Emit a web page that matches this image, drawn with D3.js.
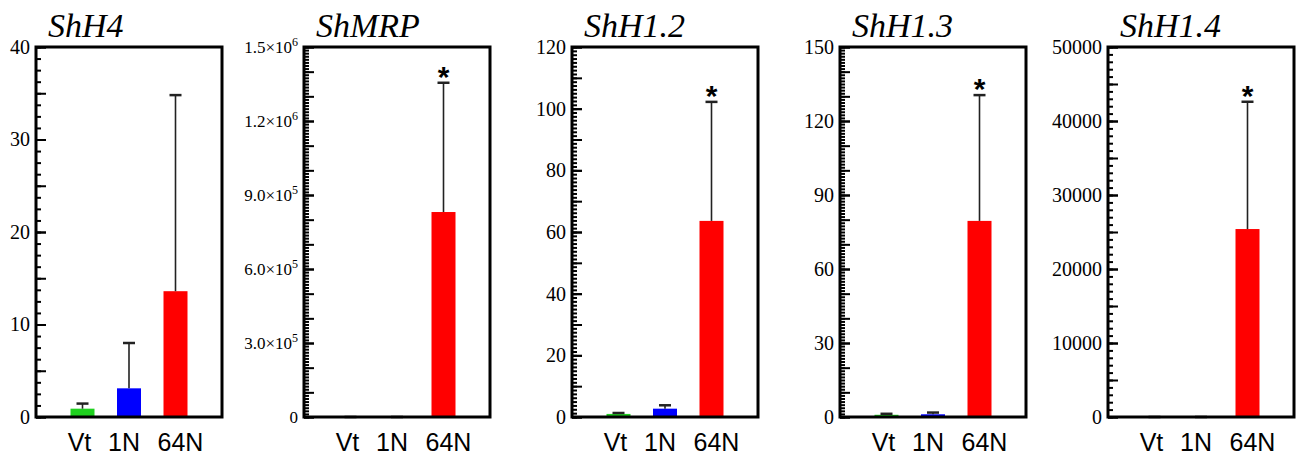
<!DOCTYPE html>
<html>
<head>
<meta charset="utf-8">
<script src="https://cdn.jsdelivr.net/npm/d3@7"></script>
<style>
  body { margin: 0; background: #fff; }
  .title { font-family: "Liberation Serif", "Times New Roman", serif; font-style: italic; font-size: 34px; }
  .xlab { font-family: "Liberation Sans", Arial, sans-serif; font-size: 25px; }
  .star { font-family: "Liberation Sans", Arial, sans-serif; font-size: 30px; font-weight: bold; }
  .ylab text { font-family: "Liberation Serif", "Times New Roman", serif; fill: #000; }
</style>
</head>
<body>
<div id="chart"></div>
<script>
// categories and genes
const categories = ["Vt", "1N", "64N"];
const genes = ["ShH4", "ShMRP", "ShH1.2", "ShH1.3", "ShH1.4"];
const barColors = ["#1fd11f", "#0000ff", "#ff0000"];

// mean values and SD (upper error)
const shH4Mean = [0.9, 3.1, 13.6];
const shH4Sd = [0.55, 4.9, 21.2];
const shMRPMean = [1, 3, 831000];
const shMRPSd = [0.5, 2, 524000];
const shH12Mean = [1.0, 2.7, 63.6];
const shH12Sd = [0.3, 1.1, 38.6];
const shH13Mean = [0.9, 1.1, 79.5];
const shH13Sd = [0.4, 0.7, 51];
const shH14Mean = [1, 1.5, 25400];
const shH14Sd = [0.5, 1, 17200];

// y axes
const yMax = [40, 1.5e6, 120, 150, 50000];
const labelStep = [10, 3e5, 20, 30, 10000];
const majorStep = [5, 1e5, 10, 10, 5000];
const minorStep = [1.25, 12500, 1.25, 1.25, 1000];
const starred = [false, true, true, true, true];

const means = [shH4Mean, shMRPMean, shH12Mean, shH13Mean, shH14Mean];
const sds = [shH4Sd, shMRPSd, shH12Sd, shH13Sd, shH14Sd];

const W = 1298, H = 456;
const margin = { left: 36, top: 47 };
const panelW = 186, panelH = 370, panelGap = 268;
const labelShift = [-3, -5, 5]; // the x labels sit slightly off the bar centres

const svg = d3.select("#chart").append("svg")
  .attr("width", W).attr("height", H);

function steps(max, step) {
  const n = Math.round(max / step);
  return d3.range(0, n + 1).map(i => i * step);
}

function sciLabel(sel) {
  sel.each(function (d) {
    const t = d3.select(this);
    if (d === 0) { t.text("0"); return; }
    const e = Math.floor(Math.log10(d));
    const m = d / Math.pow(10, e);
    t.text(null);
    t.append("tspan").text(m.toFixed(1) + "\u00d710");
    t.append("tspan").attr("dy", "-0.55em").style("font-size", "12px").text(e);
  });
}

genes.forEach((gene, gi) => {
  const g = svg.append("g")
    .attr("transform", `translate(${margin.left + gi * panelGap},${margin.top})`);

  const x = d3.scalePoint().domain(categories).range([0, panelW]).padding(1);
  const y = d3.scaleLinear().domain([0, yMax[gi]]).range([panelH, 0]);
  const bw = 24;

  // minor ticks
  g.append("g")
    .call(d3.axisLeft(y).tickValues(steps(yMax[gi], minorStep[gi])).tickSize(-5).tickFormat(""))
    .call(a => a.select(".domain").remove())
    .selectAll("line").attr("stroke", "#000").attr("stroke-width", 2);
  // major ticks
  g.append("g")
    .call(d3.axisLeft(y).tickValues(steps(yMax[gi], majorStep[gi])).tickSize(-10).tickFormat(""))
    .call(a => a.select(".domain").remove())
    .selectAll("line").attr("stroke", "#000").attr("stroke-width", 2);
  // labels
  const lab = g.append("g").attr("class", "ylab")
    .call(d3.axisLeft(y).tickValues(steps(yMax[gi], labelStep[gi])).tickSize(-10)
      .tickPadding(6).tickFormat(d3.format("d")))
    .call(a => a.select(".domain").remove());
  lab.selectAll("line").attr("stroke", "#000").attr("stroke-width", 2);
  lab.selectAll("text").style("font-size", gi === 1 ? "17px" : "20px");
  if (gi === 1) lab.selectAll("text").call(sciLabel);

  // bars
  const rows = categories.map((c, i) => ({ c, m: means[gi][i], sd: sds[gi][i], col: barColors[i] }));
  g.selectAll("rect.bar").data(rows).join("rect")
    .attr("class", "bar")
    .attr("x", d => x(d.c) - bw / 2)
    .attr("width", bw)
    .attr("y", d => y(d.m))
    .attr("height", d => panelH - y(d.m))
    .attr("fill", d => d.col);

  // error bars (upper only)
  const eb = g.selectAll("g.err").data(rows).join("g").attr("class", "err");
  eb.append("line")
    .attr("x1", d => x(d.c)).attr("x2", d => x(d.c))
    .attr("y1", d => y(d.m)).attr("y2", d => y(d.m + d.sd))
    .attr("stroke", "#222").attr("stroke-width", 1.6);
  eb.append("line")
    .attr("x1", d => x(d.c) - 6).attr("x2", d => x(d.c) + 6)
    .attr("y1", d => y(d.m + d.sd)).attr("y2", d => y(d.m + d.sd))
    .attr("stroke", "#222").attr("stroke-width", 2.5);

  if (starred[gi]) {
    const r = rows[2];
    g.append("text").attr("class", "star")
      .attr("x", x(r.c)).attr("y", y(r.m + r.sd) + 4)
      .attr("text-anchor", "middle").text("*");
  }

  // frame
  g.append("rect")
    .attr("width", panelW).attr("height", panelH)
    .attr("fill", "none").attr("stroke", "#000").attr("stroke-width", 3);

  // x labels
  g.selectAll("text.xlab").data(categories).join("text")
    .attr("class", "xlab")
    .attr("x", (d, i) => x(d) + labelShift[i]).attr("y", panelH + 34)
    .attr("text-anchor", "middle").text(d => d);

  // title
  g.append("text").attr("class", "title")
    .attr("x", 12).attr("y", -10).text(gene);
});
</script>
</body>
</html>
